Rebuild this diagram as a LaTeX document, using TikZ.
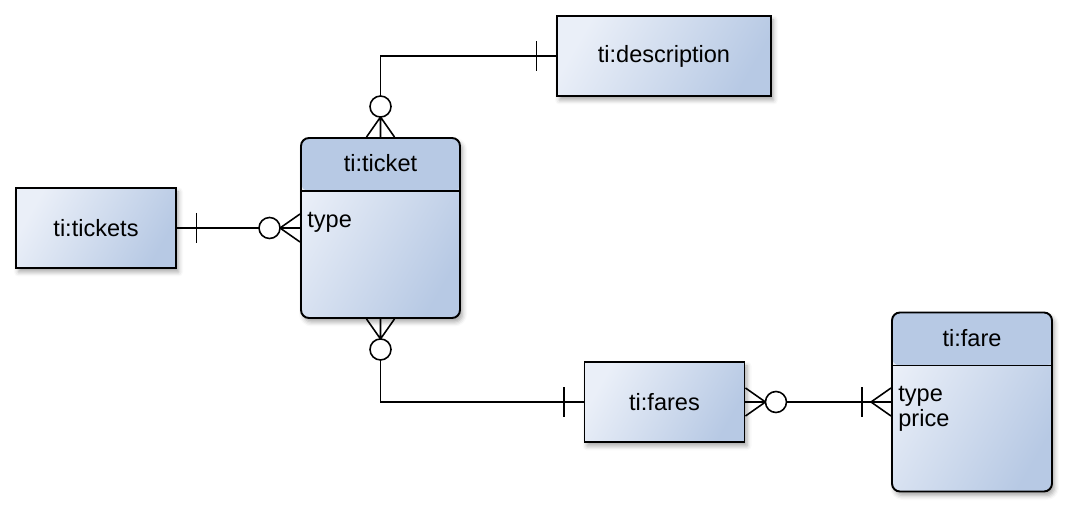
\documentclass[tikz,border=0pt]{standalone}
\usepackage{fontspec}
\setmainfont{Liberation Sans}
\usetikzlibrary{positioning,shadows.blur}

\definecolor{entlight}{RGB}{234,239,248}
\definecolor{entdark}{RGB}{183,201,228}

\begin{document}
\begin{tikzpicture}[
  font=\fontsize{13.4pt}{15pt}\selectfont,
  table/.style={
    draw,
    line width=1.1pt,
    left color=entlight,
    right color=entdark,
    shading angle=60,
    minimum width=3.2cm,
    minimum height=1.6cm,
    blur shadow={shadow xshift=0.05cm, shadow yshift=-0.08cm,
      shadow blur radius=0.09cm, shadow opacity=35}
  },
  entity/.style={
    table,
    rounded corners=0.16cm,
    minimum height=3.6cm,
    path picture={
      \fill[entdark] (path picture bounding box.north west)
        rectangle ([yshift=-1.06cm]path picture bounding box.north east);
      \draw[line width=1.1pt]
        ([yshift=-1.06cm]path picture bounding box.north west)
        -- ([yshift=-1.06cm]path picture bounding box.north east);
    }
  },
  attr/.style={anchor=base west, inner sep=0pt},
  conn/.style={line width=0.9pt},
  zeromany/.pic={
    \draw[conn] (0,0.28) -- (0.4,0) -- (0,-0.28) (0,0) -- (0.4,0);
    \draw[conn, fill=white] (0.61,0) circle[radius=0.21];
  },
  onemany/.pic={
    \draw[conn] (0,0.28) -- (0.4,0) -- (0,-0.28) (0,0) -- (0.4,0);
    \draw[conn] (0.58,0.3) -- (0.58,-0.3);
  },
  onebar/.pic={
    \draw[conn] (0.39,0.3) -- (0.39,-0.3);
  }
]
\useasboundingbox (0,0) rectangle (21.36,10.16);

% --------------------
% Tables
% --------------------
\node[table] (tickets) at (1.92,5.6) {ti:tickets};
\node[table, minimum width=4.28cm] (description) at (13.28,9.04) {ti:description};
\node[table] (fares) at (13.29,2.12) {ti:fares};

% --------------------
% Entities
% --------------------
\node[entity, minimum width=3.18cm] (ticket) at (7.61,5.6) {};
\node (tickettitle) at ([yshift=-0.53cm]ticket.north) {ti:ticket};
\node[attr] (tickettype) at ([xshift=0.14cm, yshift=-1.8cm]ticket.north west) {type};

\node[entity, minimum height=3.58cm] (fare) at (19.44,2.12) {};
\node (faretitle) at ([yshift=-0.53cm]fare.north) {ti:fare};
\node[attr] (faretype) at ([xshift=0.14cm, yshift=-1.8cm]fare.north west) {type};
\node[attr, below=0.5cm of faretype.base west, anchor=base west] (fareprice) {price};

% --------------------
% Connectors
% --------------------
\draw[conn] (tickets) -- (ticket);
\draw[conn] (description) -| (ticket);
\draw[conn] (ticket) |- (fares);
\draw[conn] (fares.east) -- (fares.east -| fare.west);

% --------------------
% Cardinalities
% --------------------
\pic at (tickets.east) {onebar};
\pic[rotate=180] at (ticket.west) {zeromany};
\pic[rotate=180] at (description.west) {onebar};
\pic[rotate=90] at (ticket.north) {zeromany};
\pic[rotate=-90] at (ticket.south) {zeromany};
\pic[rotate=180] at (fares.west) {onebar};
\pic at (fares.east) {zeromany};
\pic[rotate=180] at (fare.west) {onemany};

\end{tikzpicture}
\end{document}
